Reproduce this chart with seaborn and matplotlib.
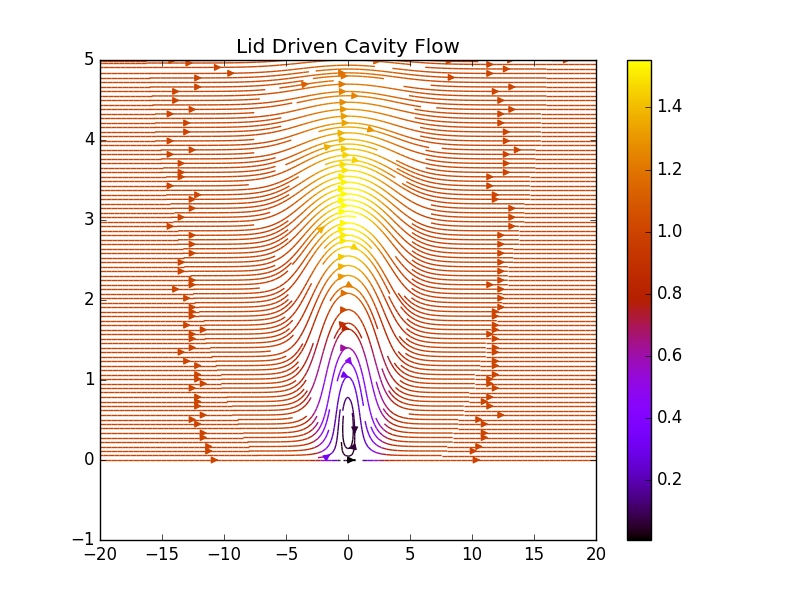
import numpy as np
import matplotlib
matplotlib.use("Agg")
import matplotlib.pyplot as plt
import seaborn as sns

# Domain and field parameters
x_range = [-20.0, 20.0]
y_range = [0.0, 5.0]
grid_size = [400, 200]          # nx, ny
bump_amp = [1.076]              # deflection amplitude (>1 gives the small recirculation at the origin)
bump_decay = [0.1174]           # vertical decay coefficient of the deflection
bump_power = [2.2]              # vertical decay exponent
bump_width = [2.2, 0.55]        # horizontal width of the bump: base, growth per unit height
uniform_speed = [1.0]
x_ticks = [-20, -15, -10, -5, 0, 5, 10, 15, 20]
y_ticks = [-1, 0, 1, 2, 3, 4, 5]
cbar_ticks = [0.2, 0.4, 0.6, 0.8, 1.0, 1.2, 1.4]
title = "Lid Driven Cavity Flow"

plt.style.use("classic")
cmap = sns.color_palette("gnuplot", as_cmap=True)

x = np.linspace(x_range[0], x_range[1], grid_size[0])
y = np.linspace(y_range[0], y_range[1], grid_size[1])
X, Y = np.meshgrid(x, y)

a = bump_amp[0]
c = bump_decay[0]
p = bump_power[0]
S = bump_width[0] + bump_width[1] * Y
E = np.exp(-X**2 / S**2)
A = a * Y * np.exp(-c * Y**p)
psi = uniform_speed[0] * Y - A * E
dpsi_dy, dpsi_dx = np.gradient(psi, y, x)
U = dpsi_dy
V = -dpsi_dx
speed = np.sqrt(U**2 + V**2)

fig = plt.figure(figsize=(8, 6), dpi=100, facecolor="white")
ax = fig.add_subplot(111)
strm = ax.streamplot(X, Y, U, V, color=speed, cmap=cmap, density=3, linewidth=1, arrowsize=1)
cb = fig.colorbar(strm.lines, ax=ax)
cb.set_ticks(cbar_ticks)
ax.set_xlim(-20, 20)
ax.set_ylim(-1, 5)
ax.set_xticks(x_ticks)
ax.set_yticks(y_ticks)
ax.set_title(title)
fig.savefig("out.png", dpi=100, facecolor="white")
